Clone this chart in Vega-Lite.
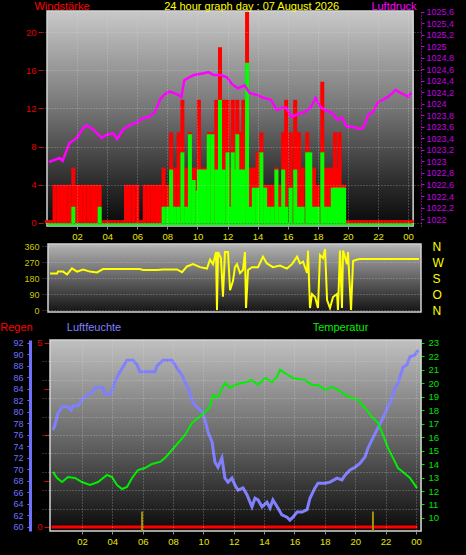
{
"$schema": "https://vega.github.io/schema/vega-lite/v6.json",
"background": "black",
"autosize": {"type": "none"},
"padding": {"left": 42, "top": 11, "right": 424, "bottom": 544},
"config": {"font": "Liberation Sans", "view": {"stroke": null}, "axis": {"titleFontWeight": "normal", "labelFont": "Liberation Sans", "titleFont": "Liberation Sans", "labelOverlap": false}},
"title": {"text": "24 hour graph day : 07 August 2026", "color": "#ffff00", "fontSize": 11, "fontWeight": "normal", "anchor": "middle", "dx": 25, "dy": 16},
"spacing": 18,
"bounds": "flush",
"datasets": {
"wind": [
{"h":0,"g":0.3,"s":0},{"h":0.25,"g":0.3,"s":0},{"h":0.5,"g":4,"s":0},{"h":0.75,"g":4,"s":0},{"h":1,"g":4,"s":0},{"h":1.25,"g":4,"s":0},{"h":1.5,"g":4,"s":0},{"h":1.75,"g":5.8,"s":1.7},{"h":2,"g":4,"s":0},{"h":2.25,"g":4,"s":0},{"h":2.5,"g":4,"s":0},{"h":2.75,"g":4,"s":0},{"h":3,"g":4,"s":0},{"h":3.25,"g":4,"s":0},{"h":3.5,"g":4,"s":1.7},{"h":3.75,"g":0.3,"s":0},{"h":4,"g":0.3,"s":0},{"h":4.25,"g":0.3,"s":0},{"h":4.5,"g":0.3,"s":0},{"h":4.75,"g":0.3,"s":0},{"h":5,"g":0.3,"s":0},{"h":5.25,"g":4,"s":0},{"h":5.5,"g":4,"s":0},{"h":5.75,"g":4,"s":0},{"h":6,"g":4,"s":0},{"h":6.25,"g":0.3,"s":0},{"h":6.5,"g":4,"s":0},{"h":6.75,"g":4,"s":0},{"h":7,"g":4,"s":0},{"h":7.25,"g":4,"s":0},{"h":7.5,"g":4,"s":0},{"h":7.75,"g":5.8,"s":1.7},{"h":8,"g":4,"s":1.7},{"h":8.25,"g":9.5,"s":5.6},{"h":8.5,"g":5.8,"s":1.7},{"h":8.75,"g":9.5,"s":1.7},{"h":9,"g":12.9,"s":7.4},{"h":9.25,"g":5.8,"s":1.7},{"h":9.5,"g":9.5,"s":9.3},{"h":9.75,"g":5.8,"s":4.5},{"h":10,"g":5.8,"s":3.4},{"h":10.1,"g":12.9,"s":5.6},{"h":10.25,"g":5.8,"s":5.6},{"h":10.5,"g":5.8,"s":5.6},{"h":10.75,"g":9.5,"s":9.3},{"h":11,"g":9.5,"s":9.3},{"h":11.25,"g":12.9,"s":5.6},{"h":11.5,"g":18.4,"s":12.9},{"h":11.75,"g":12.9,"s":5.6},{"h":12,"g":12.9,"s":7.4},{"h":12.2,"g":5.8,"s":1.7},{"h":12.35,"g":12.9,"s":7.4},{"h":12.5,"g":5.8,"s":5.6},{"h":12.65,"g":12.9,"s":9.3},{"h":12.85,"g":9.5,"s":5.6},{"h":13.05,"g":12.9,"s":5.6},{"h":13.3,"g":22.1,"s":16.8},{"h":13.5,"g":5.8,"s":1.7},{"h":13.75,"g":5.8,"s":3.7},{"h":14,"g":7.4,"s":3.7},{"h":14.25,"g":9.5,"s":7.4},{"h":14.5,"g":4,"s":3.7},{"h":14.75,"g":4,"s":1.7},{"h":15,"g":4,"s":1.7},{"h":15.25,"g":5.8,"s":5.6},{"h":15.5,"g":4,"s":1.7},{"h":15.7,"g":9.5,"s":5.6},{"h":15.9,"g":12.9,"s":1.7},{"h":16.2,"g":9.5,"s":3.7},{"h":16.5,"g":12.9,"s":5.6},{"h":16.75,"g":9.5,"s":1.7},{"h":17,"g":5.8,"s":1.7},{"h":17.3,"g":9.5,"s":7.4},{"h":17.5,"g":5.8,"s":7.4},{"h":17.75,"g":5.8,"s":1.7},{"h":18,"g":4,"s":1.7},{"h":18.3,"g":14.8,"s":7.4},{"h":18.5,"g":5.8,"s":1.7},{"h":18.75,"g":5.8,"s":1.7},{"h":19,"g":5.8,"s":3.7},{"h":19.15,"g":9.5,"s":3.7},{"h":19.3,"g":5.8,"s":3.7},{"h":19.45,"g":9.5,"s":3.7},{"h":19.6,"g":4,"s":3.7},{"h":19.75,"g":4,"s":3.7},{"h":20,"g":0.3,"s":0},{"h":20.25,"g":0.3,"s":0},{"h":20.5,"g":0.3,"s":0},{"h":20.75,"g":0.3,"s":0},{"h":21,"g":0.3,"s":0},{"h":21.25,"g":0.3,"s":0},{"h":21.5,"g":0.3,"s":0},{"h":21.75,"g":0.3,"s":0},{"h":22,"g":0.3,"s":0},{"h":22.25,"g":0.3,"s":0},{"h":22.5,"g":0.3,"s":0},{"h":22.75,"g":0.3,"s":0},{"h":23,"g":0.3,"s":0},{"h":23.25,"g":0.3,"s":0},{"h":23.5,"g":0.3,"s":0},{"h":23.75,"g":0.3,"s":0},{"h":24,"g":0.3,"s":0},{"h":24.25,"g":0.3,"s":0}
],
"pres": [
{"h":0.13,"p":1022.99},{"h":0.84,"p":1023.06},{"h":1.04,"p":1023.01},{"h":1.49,"p":1023.32},{"h":1.81,"p":1023.37},{"h":2.01,"p":1023.42},{"h":2.46,"p":1023.6},{"h":2.65,"p":1023.63},{"h":3.11,"p":1023.55},{"h":3.62,"p":1023.41},{"h":3.95,"p":1023.46},{"h":4.4,"p":1023.49},{"h":4.66,"p":1023.39},{"h":5.05,"p":1023.55},{"h":5.5,"p":1023.63},{"h":6.02,"p":1023.68},{"h":6.34,"p":1023.75},{"h":6.8,"p":1023.77},{"h":7.18,"p":1023.86},{"h":7.51,"p":1024.07},{"h":7.83,"p":1024.17},{"h":8.16,"p":1024.21},{"h":8.41,"p":1024.19},{"h":8.74,"p":1024.15},{"h":8.93,"p":1024.12},{"h":9.13,"p":1024.41},{"h":9.39,"p":1024.45},{"h":9.77,"p":1024.5},{"h":10.42,"p":1024.53},{"h":10.74,"p":1024.55},{"h":11.07,"p":1024.5},{"h":11.52,"p":1024.5},{"h":11.97,"p":1024.46},{"h":12.3,"p":1024.34},{"h":12.69,"p":1024.27},{"h":13.14,"p":1024.32},{"h":13.46,"p":1024.19},{"h":13.98,"p":1024.15},{"h":14.43,"p":1024.1},{"h":14.89,"p":1024.07},{"h":15.28,"p":1023.89},{"h":15.6,"p":1023.93},{"h":15.92,"p":1023.93},{"h":16.25,"p":1023.77},{"h":16.57,"p":1023.81},{"h":17.15,"p":1023.86},{"h":17.54,"p":1023.94},{"h":17.86,"p":1024.1},{"h":18.19,"p":1023.94},{"h":18.51,"p":1023.89},{"h":18.96,"p":1023.84},{"h":19.29,"p":1023.72},{"h":19.61,"p":1023.76},{"h":19.94,"p":1023.6},{"h":20.26,"p":1023.6},{"h":20.58,"p":1023.58},{"h":20.91,"p":1023.56},{"h":21.1,"p":1023.63},{"h":21.36,"p":1023.81},{"h":21.68,"p":1023.86},{"h":22.01,"p":1024.03},{"h":22.33,"p":1024.07},{"h":22.65,"p":1024.12},{"h":22.98,"p":1024.19},{"h":23.17,"p":1024.24},{"h":23.5,"p":1024.19},{"h":23.82,"p":1024.15},{"h":24.01,"p":1024.12},{"h":24.21,"p":1024.19}
],
"dir": [
{"h":0,"d":206},{"h":0.46,"d":206},{"h":0.52,"d":216},{"h":0.85,"d":216},{"h":1.11,"d":200},{"h":1.43,"d":234},{"h":1.76,"d":216},{"h":2.15,"d":228},{"h":2.6,"d":216},{"h":3.06,"d":211},{"h":3.45,"d":230},{"h":4.1,"d":230},{"h":5.85,"d":230},{"h":6.05,"d":225},{"h":6.96,"d":225},{"h":7.35,"d":228},{"h":8.26,"d":228},{"h":8.59,"d":213},{"h":8.91,"d":245},{"h":9.3,"d":258},{"h":9.76,"d":241},{"h":10.21,"d":233},{"h":10.41,"d":284},{"h":10.6,"d":258},{"h":10.8,"d":326},{"h":10.86,"d":0},{"h":10.93,"d":326},{"h":11.12,"d":292},{"h":11.25,"d":75},{"h":11.38,"d":326},{"h":11.58,"d":326},{"h":11.71,"d":112},{"h":11.9,"d":163},{"h":12.03,"d":241},{"h":12.16,"d":258},{"h":12.36,"d":208},{"h":12.55,"d":225},{"h":12.68,"d":326},{"h":12.75,"d":11},{"h":12.88,"d":225},{"h":13.14,"d":241},{"h":13.53,"d":241},{"h":13.85,"d":300},{"h":14.11,"d":262},{"h":14.5,"d":241},{"h":14.96,"d":250},{"h":15.41,"d":233},{"h":15.74,"d":258},{"h":16.07,"d":300},{"h":16.26,"d":262},{"h":16.46,"d":272},{"h":16.72,"d":208},{"h":16.78,"d":335},{"h":16.91,"d":11},{"h":17.04,"d":90},{"h":17.24,"d":73},{"h":17.43,"d":11},{"h":17.56,"d":309},{"h":17.76,"d":292},{"h":17.89,"d":343},{"h":18.02,"d":56},{"h":18.21,"d":11},{"h":18.41,"d":73},{"h":18.67,"d":90},{"h":18.73,"d":0},{"h":18.86,"d":335},{"h":18.99,"d":11},{"h":19.06,"d":335},{"h":19.32,"d":258},{"h":19.38,"d":326},{"h":19.58,"d":0},{"h":19.71,"d":276},{"h":19.97,"d":284},{"h":20.16,"d":287},{"h":24,"d":287}
],
"hum": [
{"h":0.09,"u":76.9},{"h":0.22,"u":77.7},{"h":0.42,"u":79.8},{"h":0.69,"u":80.9},{"h":1.08,"u":80.9},{"h":1.28,"u":80.3},{"h":1.41,"u":81.1},{"h":1.74,"u":81.1},{"h":2,"u":82.1},{"h":2.33,"u":83},{"h":2.66,"u":83.3},{"h":2.86,"u":84.2},{"h":3.39,"u":84.2},{"h":3.52,"u":83.1},{"h":3.85,"u":83.1},{"h":3.98,"u":83.8},{"h":4.18,"u":85.2},{"h":4.37,"u":86.4},{"h":4.7,"u":87.8},{"h":4.96,"u":89},{"h":5.36,"u":89},{"h":5.63,"u":88.2},{"h":5.82,"u":87},{"h":6.81,"u":87},{"h":6.94,"u":88},{"h":7.34,"u":89},{"h":7.93,"u":89},{"h":8.13,"u":88.2},{"h":8.33,"u":87.3},{"h":8.59,"u":86.4},{"h":8.79,"u":85.2},{"h":8.99,"u":84.2},{"h":9.25,"u":82.1},{"h":9.45,"u":81.2},{"h":9.91,"u":80},{"h":10.11,"u":78.6},{"h":10.3,"u":76.5},{"h":10.57,"u":74.8},{"h":10.63,"u":73.7},{"h":10.76,"u":71.3},{"h":10.96,"u":70.4},{"h":11.22,"u":72},{"h":11.42,"u":68.5},{"h":11.62,"u":67.8},{"h":11.88,"u":68.5},{"h":12.08,"u":67.3},{"h":12.28,"u":66.4},{"h":12.61,"u":66.8},{"h":12.87,"u":65.6},{"h":13.2,"u":63.5},{"h":13.4,"u":65},{"h":13.6,"u":64.7},{"h":13.86,"u":63.5},{"h":14.19,"u":64.3},{"h":14.39,"u":63.3},{"h":14.58,"u":64.7},{"h":14.91,"u":63.3},{"h":15.17,"u":62.1},{"h":15.51,"u":61.7},{"h":15.7,"u":61.2},{"h":15.9,"u":61.7},{"h":16.17,"u":62.6},{"h":16.5,"u":62.6},{"h":16.83,"u":63},{"h":17.02,"u":65},{"h":17.35,"u":66.8},{"h":17.55,"u":67.6},{"h":18.01,"u":67.6},{"h":18.34,"u":67.8},{"h":18.8,"u":68.5},{"h":19.13,"u":68.2},{"h":19.33,"u":69},{"h":19.66,"u":69.9},{"h":19.99,"u":70.4},{"h":20.32,"u":71.1},{"h":20.65,"u":72.2},{"h":20.84,"u":73.7},{"h":21.17,"u":75.5},{"h":21.43,"u":76.9},{"h":21.76,"u":78.6},{"h":21.96,"u":79.8},{"h":22.16,"u":80.9},{"h":22.42,"u":82.4},{"h":22.62,"u":84.2},{"h":22.82,"u":85},{"h":23.15,"u":87.8},{"h":23.41,"u":88.2},{"h":23.61,"u":89.6},{"h":23.94,"u":89.9},{"h":24.14,"u":90.8}
],
"temp": [
{"h":0.09,"t":13.42},{"h":0.36,"t":12.97},{"h":0.69,"t":12.67},{"h":1.08,"t":13.04},{"h":1.54,"t":12.97},{"h":2,"t":12.67},{"h":2.53,"t":12.45},{"h":3.06,"t":12.67},{"h":3.65,"t":13.19},{"h":3.98,"t":13.04},{"h":4.31,"t":12.45},{"h":4.64,"t":12.15},{"h":4.97,"t":12.3},{"h":5.3,"t":12.97},{"h":5.69,"t":13.56},{"h":6.15,"t":13.71},{"h":6.61,"t":14.01},{"h":7.14,"t":14.16},{"h":7.47,"t":14.46},{"h":7.93,"t":15.05},{"h":8.33,"t":15.57},{"h":8.79,"t":16.17},{"h":9.25,"t":17.06},{"h":9.64,"t":17.43},{"h":10.11,"t":17.87},{"h":10.43,"t":18.25},{"h":10.63,"t":19.14},{"h":10.9,"t":18.91},{"h":11.09,"t":19.29},{"h":11.42,"t":20.03},{"h":11.75,"t":19.66},{"h":12.08,"t":19.88},{"h":12.54,"t":20.03},{"h":12.87,"t":20.1},{"h":13.2,"t":20.25},{"h":13.6,"t":19.88},{"h":14.06,"t":20.4},{"h":14.52,"t":20.1},{"h":14.85,"t":20.47},{"h":15.05,"t":21},{"h":15.24,"t":20.85},{"h":15.57,"t":20.62},{"h":15.9,"t":20.4},{"h":16.23,"t":20.33},{"h":16.69,"t":20.25},{"h":17.15,"t":19.88},{"h":17.55,"t":19.88},{"h":18.01,"t":19.51},{"h":18.47,"t":19.73},{"h":18.87,"t":19.51},{"h":19.33,"t":19.14},{"h":19.79,"t":18.91},{"h":20.18,"t":18.77},{"h":20.65,"t":18.17},{"h":21.11,"t":17.5},{"h":21.5,"t":17.06},{"h":21.83,"t":16.17},{"h":22.16,"t":15.2},{"h":22.49,"t":14.46},{"h":22.82,"t":13.71},{"h":23.15,"t":13.42},{"h":23.61,"t":12.97},{"h":24.07,"t":12.22}
],
"rain": [
{"h":0,"r":0},{"h":2,"r":0},{"h":4,"r":0},{"h":6,"r":0},{"h":8,"r":0},{"h":10,"r":0},{"h":12,"r":0},{"h":14,"r":0},{"h":16,"r":0},{"h":18,"r":0},{"h":20,"r":0},{"h":22,"r":0},{"h":24.1,"r":0}
],
"sun": [{"h":5.96,"m":0.42},{"h":21.17,"m":0.42}]
},
"vconcat": [
{
"width": 379, "height": 215,
"resolve": {"scale": {"y": "independent"}},
"layer": [
{
"layer": [
{
"data": {"values": [{}]},
"mark": {"type": "rect", "color": {"gradient": "linear", "x1": 0, "y1": 0, "x2": 0, "y2": 1, "stops": [{"offset": 0, "color": "#c8c8c8"}, {"offset": 0.45, "color": "#767676"}, {"offset": 0.8, "color": "#2c2c2c"}, {"offset": 1, "color": "#080808"}]}, "stroke": "#d4d4d4", "strokeWidth": 1.5},
"encoding": {
"x": {"datum": 0, "type": "quantitative", "scale": {"domain": [0, 24.53], "nice": false, "zero": false}, "axis": {"title": null, "values": [2,4,6,8,10,12,14,16,18,20,22,24], "labelExpr": "datum.value == 24 ? '00' : (datum.value < 10 ? '0' + datum.value : '' + datum.value)", "labelColor": "#e8e800", "labelFontSize": 9.5, "tickColor": "#909090", "tickSize": 3, "labelPadding": 2, "domain": false, "grid": true, "gridColor": "#e0e0e0", "gridDash": [1, 2], "gridOpacity": 0.45, "zindex": 1}},
"x2": {"datum": 24.34},
"y": {"datum": 22.21, "type": "quantitative", "scale": {"domain": [-0.316, 22.21], "nice": false, "zero": false}, "axis": {"title": "Windstärke", "titleAngle": 0, "titleX": 19.5, "titleY": -5, "titleAlign": "center", "titleBaseline": "middle", "titleColor": "#ff0000", "titleFontSize": 11, "values": [0,2,4,6,8,10,12,14,16,18,20,22], "labelColor": "#e00000", "labelFontSize": 9.5, "tickColor": "#e00000", "tickSize": 4, "labelPadding": 2, "domain": false, "grid": true, "gridColor": "#e0e0e0", "gridDash": [1, 2], "gridOpacity": 0.45, "zindex": 1}},
"y2": {"datum": -0.316}
}
},
{
"data": {"name": "wind"},
"mark": {"type": "bar", "color": "#ff0000", "size": 4},
"encoding": {
"x": {"field": "h", "type": "quantitative", "scale": {"domain": [0, 24.53], "nice": false, "zero": false}, "axis": {"title": null, "values": [2,4,6,8,10,12,14,16,18,20,22,24], "labelExpr": "datum.value == 24 ? '00' : (datum.value < 10 ? '0' + datum.value : '' + datum.value)", "labelColor": "#e8e800", "labelFontSize": 9.5, "tickColor": "#909090", "tickSize": 3, "labelPadding": 2, "domain": false, "grid": true, "gridColor": "#e0e0e0", "gridDash": [1, 2], "gridOpacity": 0.45, "zindex": 1}},
"y": {"field": "g", "type": "quantitative"},
"y2": {"datum": 0}
}
},
{
"data": {"name": "wind"},
"mark": {"type": "bar", "color": "#00ff00", "size": 4},
"encoding": {
"x": {"field": "h", "type": "quantitative", "scale": {"domain": [0, 24.53], "nice": false, "zero": false}, "axis": {"title": null, "values": [2,4,6,8,10,12,14,16,18,20,22,24], "labelExpr": "datum.value == 24 ? '00' : (datum.value < 10 ? '0' + datum.value : '' + datum.value)", "labelColor": "#e8e800", "labelFontSize": 9.5, "tickColor": "#909090", "tickSize": 3, "labelPadding": 2, "domain": false, "grid": true, "gridColor": "#e0e0e0", "gridDash": [1, 2], "gridOpacity": 0.45, "zindex": 1}},
"y": {"field": "s", "type": "quantitative"},
"y2": {"datum": 0}
}
},
{
"data": {"values": [{}]},
"mark": {"type": "rule", "color": "#00ff00", "strokeWidth": 2},
"encoding": {
"x": {"datum": 0, "type": "quantitative", "scale": {"domain": [0, 24.53], "nice": false, "zero": false}, "axis": {"title": null, "values": [2,4,6,8,10,12,14,16,18,20,22,24], "labelExpr": "datum.value == 24 ? '00' : (datum.value < 10 ? '0' + datum.value : '' + datum.value)", "labelColor": "#e8e800", "labelFontSize": 9.5, "tickColor": "#909090", "tickSize": 3, "labelPadding": 2, "domain": false, "grid": true, "gridColor": "#e0e0e0", "gridDash": [1, 2], "gridOpacity": 0.45, "zindex": 1}},
"x2": {"datum": 24.34},
"y": {"datum": -0.12, "type": "quantitative"}
}
}
]
},
{
"data": {"name": "pres"},
"mark": {"type": "line", "color": "#ff00ff", "strokeWidth": 2.5},
"encoding": {
"x": {"field": "h", "type": "quantitative", "scale": {"domain": [0, 24.53], "nice": false, "zero": false}, "axis": {"title": null, "values": [2,4,6,8,10,12,14,16,18,20,22,24], "labelExpr": "datum.value == 24 ? '00' : (datum.value < 10 ? '0' + datum.value : '' + datum.value)", "labelColor": "#e8e800", "labelFontSize": 9.5, "tickColor": "#909090", "tickSize": 3, "labelPadding": 2, "domain": false, "grid": true, "gridColor": "#e0e0e0", "gridDash": [1, 2], "gridOpacity": 0.45, "zindex": 1}},
"y": {"field": "p", "type": "quantitative", "scale": {"domain": [1021.88, 1025.61], "nice": false, "zero": false}, "axis": {"orient": "right", "title": "Luftdruck", "titleAngle": 0, "titleX": -27.5, "titleY": -5, "titleAlign": "center", "titleBaseline": "middle", "titleColor": "#ff00ff", "titleFontSize": 11, "values": [1022,1022.2,1022.4,1022.6,1022.8,1023,1023.2,1023.4,1023.6,1023.8,1024,1024.2,1024.4,1024.6,1024.8,1025,1025.2,1025.4,1025.6], "labelExpr": "abs(datum.value - round(datum.value)) < 0.001 ? format(datum.value, '.0f') : replace(format(datum.value, '.1f'), '.', ',')", "labelColor": "#c000e0", "labelFontSize": 9, "tickColor": "#c000e0", "tickSize": 3, "labelPadding": 2, "domainColor": "#ff00ff", "domainDash": [1, 2], "grid": false}}
}
}
]
},
{
"width": 379, "height": 78,
"resolve": {"scale": {"y": "independent"}},
"layer": [
{
"layer": [
{
"data": {"values": [{}]},
"mark": {"type": "rect", "color": {"gradient": "linear", "x1": 0, "y1": 0, "x2": 0, "y2": 1, "stops": [{"offset": 0, "color": "#b4b4b4"}, {"offset": 1, "color": "#141414"}]}, "stroke": "#d4d4d4", "strokeWidth": 1.5},
"encoding": {
"x": {"datum": -0.13, "type": "quantitative", "scale": {"domain": [-0.52, 24.13], "nice": false, "zero": false}, "axis": null},
"x2": {"datum": 24.13},
"y": {"datum": 371.25, "type": "quantitative", "scale": {"domain": [-67.5, 371.25], "nice": false, "zero": false}, "axis": {"title": null, "values": [0, 90, 180, 270, 360], "labelOverlap": false, "labelFlush": false, "labelColor": "#c8c800", "labelFontSize": 9, "tickSize": 0, "labelPadding": 3, "domain": false, "grid": true, "gridColor": "#e0e0e0", "gridDash": [1, 2], "gridOpacity": 0.45, "zindex": 1}},
"y2": {"datum": -11.25}
}
},
{
"data": {"name": "dir"},
"mark": {"type": "line", "color": "#ffff00", "strokeWidth": 2},
"encoding": {
"x": {"field": "h", "type": "quantitative", "scale": {"domain": [-0.52, 24.13], "nice": false, "zero": false}, "axis": null},
"y": {"field": "d", "type": "quantitative", "scale": {"domain": [-67.5, 371.25], "nice": false, "zero": false}, "axis": {"title": null, "values": [0, 90, 180, 270, 360], "labelOverlap": false, "labelFlush": false, "labelColor": "#c8c800", "labelFontSize": 9, "tickSize": 0, "labelPadding": 3, "domain": false, "grid": true, "gridColor": "#e0e0e0", "gridDash": [1, 2], "gridOpacity": 0.45, "zindex": 1}}
}
}
]
},
{
"data": {"name": "dir"},
"mark": {"type": "point", "opacity": 0},
"encoding": {
"x": {"field": "h", "type": "quantitative", "scale": {"domain": [-0.52, 24.13], "nice": false, "zero": false}, "axis": null},
"y": {"field": "d", "type": "quantitative", "scale": {"domain": [-67.5, 371.25], "nice": false, "zero": false}, "axis": {"orient": "right", "title": null, "values": [0, 90, 180, 270, 360], "labelOverlap": false, "labelFlush": false, "labelExpr": "datum.value == 360 ? 'N' : datum.value == 270 ? 'W' : datum.value == 180 ? 'S' : datum.value == 90 ? 'O' : 'N'", "labelColor": "#ffff00", "labelFontSize": 12, "tickSize": 0, "labelPadding": 11, "domain": false, "grid": false}}
}
}
]
},
{
"width": 379, "height": 191,
"resolve": {"scale": {"y": "independent"}},
"layer": [
{
"data": {"values": [{}]},
"mark": {"type": "rect", "color": {"gradient": "linear", "x1": 0, "y1": 0, "x2": 0, "y2": 1, "stops": [{"offset": 0, "color": "#c0c0c0"}, {"offset": 0.5, "color": "#6a6a6a"}, {"offset": 1, "color": "#0a0a0a"}]}, "stroke": "#d4d4d4", "strokeWidth": 1.5},
"encoding": {
"x": {"datum": -0.105, "type": "quantitative", "scale": {"domain": [-0.632, 24.335], "nice": false, "zero": false}, "axis": {"title": null, "values": [2,4,6,8,10,12,14,16,18,20,22,24], "labelExpr": "datum.value == 24 ? '00' : (datum.value < 10 ? '0' + datum.value : '' + datum.value)", "labelColor": "#e8e800", "labelFontSize": 9.5, "tickColor": "#909090", "tickSize": 3, "labelPadding": 2, "domain": false, "grid": true, "gridColor": "#e0e0e0", "gridDash": [1, 2], "gridOpacity": 0.45, "zindex": 1}},
"x2": {"datum": 24.335},
"y": {"datum": 5.08, "type": "quantitative", "scale": {"domain": [-0.109, 5.08], "nice": false, "zero": false}, "axis": {"title": null, "values": [0.5,1,1.5,2,2.5,3,3.5,4,4.5], "labels": false, "ticks": false, "domain": false, "grid": true, "gridColor": "#e0e0e0", "gridDash": [1, 2], "gridOpacity": 0.45, "zindex": 1}},
"y2": {"datum": -0.109}
}
},
{
"data": {"name": "hum"},
"mark": {"type": "line", "color": "#8080ff", "strokeWidth": 3},
"encoding": {
"x": {"field": "h", "type": "quantitative", "scale": {"domain": [-0.632, 24.335], "nice": false, "zero": false}, "axis": {"title": null, "values": [2,4,6,8,10,12,14,16,18,20,22,24], "labelExpr": "datum.value == 24 ? '00' : (datum.value < 10 ? '0' + datum.value : '' + datum.value)", "labelColor": "#e8e800", "labelFontSize": 9.5, "tickColor": "#909090", "tickSize": 3, "labelPadding": 2, "domain": false, "grid": true, "gridColor": "#e0e0e0", "gridDash": [1, 2], "gridOpacity": 0.45, "zindex": 1}},
"y": {"field": "u", "type": "quantitative", "scale": {"domain": [59.3, 92.52], "nice": false, "zero": false}, "axis": {"orient": "left", "offset": 12, "title": "Luftfeuchte", "titleAngle": 0, "titleX": 63.5, "titleY": -13, "titleAlign": "center", "titleBaseline": "middle", "titleColor": "#8080ff", "titleFontSize": 11, "values": [60,62,64,66,68,70,72,74,76,78,80,82,84,86,88,90,92], "labelColor": "#7070ff", "labelFontSize": 9, "tickColor": "#7070ff", "tickSize": 3, "labelPadding": 4, "domainColor": "#7070ff", "domainWidth": 3, "grid": false}}
}
},
{
"data": {"name": "temp"},
"mark": {"type": "line", "color": "#00ee00", "strokeWidth": 2},
"encoding": {
"x": {"field": "h", "type": "quantitative", "scale": {"domain": [-0.632, 24.335], "nice": false, "zero": false}, "axis": {"title": null, "values": [2,4,6,8,10,12,14,16,18,20,22,24], "labelExpr": "datum.value == 24 ? '00' : (datum.value < 10 ? '0' + datum.value : '' + datum.value)", "labelColor": "#e8e800", "labelFontSize": 9.5, "tickColor": "#909090", "tickSize": 3, "labelPadding": 2, "domain": false, "grid": true, "gridColor": "#e0e0e0", "gridDash": [1, 2], "gridOpacity": 0.45, "zindex": 1}},
"y": {"field": "t", "type": "quantitative", "scale": {"domain": [9.03, 23.22], "nice": false, "zero": false}, "axis": {"orient": "right", "title": "Temperatur", "titleAngle": 0, "titleX": -81, "titleY": -13, "titleAlign": "center", "titleBaseline": "middle", "titleColor": "#00ee00", "titleFontSize": 11, "values": [10,11,12,13,14,15,16,17,18,19,20,21,22,23], "labelColor": "#00e000", "labelFontSize": 9.5, "tickColor": "#00e000", "tickSize": 3, "labelPadding": 4, "domainColor": "#00e000", "domainDash": [1, 1], "grid": false}}
}
},
{
"layer": [
{
"data": {"name": "rain"},
"mark": {"type": "line", "color": "#ff0000", "strokeWidth": 3},
"encoding": {
"x": {"field": "h", "type": "quantitative", "scale": {"domain": [-0.632, 24.335], "nice": false, "zero": false}, "axis": {"title": null, "values": [2,4,6,8,10,12,14,16,18,20,22,24], "labelExpr": "datum.value == 24 ? '00' : (datum.value < 10 ? '0' + datum.value : '' + datum.value)", "labelColor": "#e8e800", "labelFontSize": 9.5, "tickColor": "#909090", "tickSize": 3, "labelPadding": 2, "domain": false, "grid": true, "gridColor": "#e0e0e0", "gridDash": [1, 2], "gridOpacity": 0.45, "zindex": 1}},
"y": {"field": "r", "type": "quantitative", "scale": {"domain": [-0.109, 5.08], "nice": false, "zero": false}, "axis": {"orient": "left", "offset": -7, "title": "Regen", "titleAngle": 0, "titleX": -33, "titleY": -13, "titleAlign": "center", "titleBaseline": "middle", "titleColor": "#ff0000", "titleFontSize": 11, "values": [0, 1.25, 2.5, 3.75, 5], "labelExpr": "datum.value == 0 || datum.value == 5 ? datum.label : ''", "labelColor": "#e00000", "labelFontSize": 9.5, "tickColor": "#e00000", "tickSize": 5, "labelPadding": 2, "domain": false, "grid": false}}
}
},
{
"data": {"name": "sun"},
"mark": {"type": "rule", "color": "#a89000", "strokeWidth": 2},
"encoding": {
"x": {"field": "h", "type": "quantitative", "scale": {"domain": [-0.632, 24.335], "nice": false, "zero": false}, "axis": {"title": null, "values": [2,4,6,8,10,12,14,16,18,20,22,24], "labelExpr": "datum.value == 24 ? '00' : (datum.value < 10 ? '0' + datum.value : '' + datum.value)", "labelColor": "#e8e800", "labelFontSize": 9.5, "tickColor": "#909090", "tickSize": 3, "labelPadding": 2, "domain": false, "grid": true, "gridColor": "#e0e0e0", "gridDash": [1, 2], "gridOpacity": 0.45, "zindex": 1}},
"y": {"field": "m", "type": "quantitative"},
"y2": {"datum": -0.1}
}
}
]
}
]
}
]
}
